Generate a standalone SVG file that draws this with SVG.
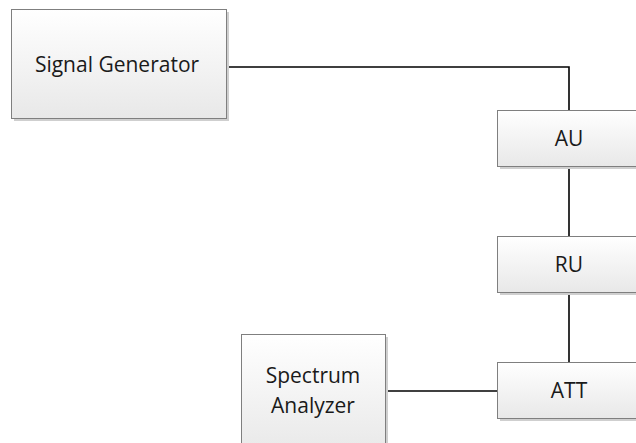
<svg xmlns="http://www.w3.org/2000/svg" width="636" height="443" viewBox="0 0 636 443">
<style>
.box{fill:url(#g);stroke:#7f7f7f;stroke-width:1}
.sh{fill:#cfcfcf}
.t{font-family:"Open Sans","Noto Sans",sans-serif;font-size:21px;fill:#1a1a1a;text-anchor:middle}
.c{stroke:#000;stroke-width:1.6;fill:none}
</style>
<defs>
<linearGradient id="g" x1="0" y1="0" x2="0" y2="1">
<stop offset="0" stop-color="#ffffff"/>
<stop offset="1" stop-color="#e8e8e8"/>
</linearGradient>
</defs>
<rect width="636" height="443" fill="#fff"/>
<g id="connectors">
<path class="c" d="M226,67 H569 V110"/>
<path class="c" d="M569,166 V236"/>
<path class="c" d="M569,292 V362"/>
<path class="c" d="M385,391 H497"/>
</g>
<g id="signal-generator">
<rect class="sh" x="14" y="12" width="215" height="109"/>
<rect class="box" x="11.5" y="9.5" width="215" height="109"/>
<text class="t" x="117" y="72">Signal Generator</text>
</g>
<g id="au">
<rect class="sh" x="500" y="113" width="140" height="56"/>
<rect class="box" x="497.5" y="110.5" width="145" height="56"/>
<text class="t" x="569" y="146">AU</text>
</g>
<g id="ru">
<rect class="sh" x="500" y="239" width="140" height="56"/>
<rect class="box" x="497.5" y="236.5" width="145" height="56"/>
<text class="t" x="569" y="272">RU</text>
</g>
<g id="att">
<rect class="sh" x="500" y="365" width="140" height="56"/>
<rect class="box" x="497.5" y="362.5" width="145" height="56"/>
<text class="t" x="569" y="398">ATT</text>
</g>
<g id="spectrum-analyzer">
<rect class="sh" x="244" y="337" width="144" height="120"/>
<rect class="box" x="241.5" y="334.5" width="144" height="120"/>
<text class="t" x="313" y="383">Spectrum</text>
<text class="t" x="313" y="413">Analyzer</text>
</g>
</svg>
